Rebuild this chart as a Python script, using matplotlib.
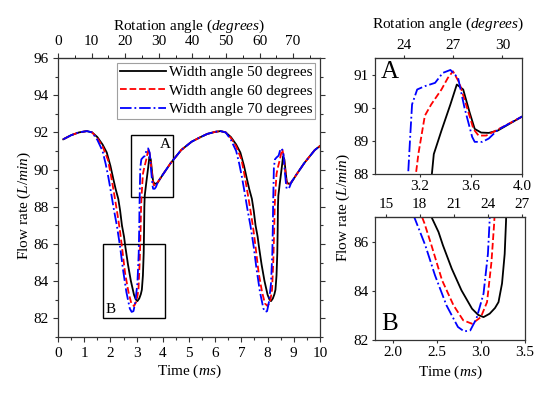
import numpy as np
import matplotlib; matplotlib.use('Agg')
import matplotlib.pyplot as plt
from matplotlib.patches import Rectangle
from matplotlib.ticker import MultipleLocator, FormatStrFormatter

plt.rcParams['font.family'] = ['Liberation Serif', 'DejaVu Serif']
plt.rcParams['mathtext.fontset'] = 'custom'
plt.rcParams['mathtext.rm'] = 'Liberation Serif'
plt.rcParams['mathtext.it'] = 'Liberation Serif:italic'

DEG_PER_MS = 7.8  # rotation angle per ms for the top axes

# --- data: time (ms) and flow rate (L/min) ---
t_50 = [0.2, 0.5, 0.8, 1.1, 1.3,
        1.5, 1.7, 1.86, 2.0, 2.11, 2.2, 2.30, 2.37, 2.44, 2.52, 2.57, 2.67, 2.78, 2.90, 2.97, 3.03,
        3.10, 3.16, 3.20, 3.24, 3.27, 3.285, 3.295, 3.31, 3.37, 3.44, 3.49, 3.54, 3.59, 3.63, 3.68, 3.74, 3.81,
        3.99, 4.3, 4.7, 5.1, 5.4, 5.7, 6.0, 6.2, 6.4,
        6.6, 6.8, 6.96, 7.1, 7.21, 7.3, 7.4, 7.47, 7.54, 7.62, 7.67, 7.77, 7.88, 8.0, 8.07, 8.13,
        8.2, 8.26, 8.3, 8.34, 8.37, 8.385, 8.395, 8.41, 8.47, 8.54, 8.59, 8.64, 8.69, 8.73, 8.78, 8.84, 8.91,
        9.09, 9.4, 9.8, 10.0]
q_50 = [91.63, 91.85, 92.0, 92.07, 92.0,
        91.75, 91.35, 90.92, 90.2, 89.5, 88.95, 88.43, 87.8, 87.0, 86.39, 85.85, 84.9, 84.02, 83.27, 83.02, 82.93,
        83.07, 83.3, 83.54, 84.3, 85.5, 86.8, 88.0, 88.6, 89.31, 90.1, 90.7, 90.55, 89.86, 89.36, 89.25, 89.24, 89.31,
        89.71, 90.35, 91.05, 91.5, 91.72, 91.92, 92.03, 92.07, 92.0,
        91.75, 91.35, 90.92, 90.2, 89.5, 88.95, 88.43, 87.8, 87.0, 86.39, 85.85, 84.9, 84.02, 83.27, 83.02, 82.93,
        83.07, 83.3, 83.54, 84.3, 85.5, 86.8, 88.0, 88.6, 89.31, 90.1, 90.7, 90.55, 89.86, 89.36, 89.25, 89.24, 89.31,
        89.71, 90.35, 91.05, 91.27]

t_60 = [0.2, 0.5, 0.8, 1.1, 1.3,
        1.5, 1.7, 1.9, 2.0, 2.1, 2.2, 2.28, 2.36, 2.44, 2.56, 2.69, 2.80, 2.90, 3.0,
        3.07, 3.12, 3.15, 3.17, 3.19, 3.24, 3.29, 3.37, 3.42, 3.46, 3.51, 3.57, 3.62, 3.66, 3.72, 3.79,
        3.99, 4.3, 4.7, 5.1, 5.4, 5.7, 6.0, 6.2, 6.4,
        6.6, 6.8, 7.0, 7.1, 7.2, 7.3, 7.38, 7.46, 7.54, 7.66, 7.79, 7.9, 8.0, 8.1,
        8.17, 8.22, 8.25, 8.27, 8.29, 8.34, 8.39, 8.47, 8.52, 8.56, 8.61, 8.67, 8.72, 8.76, 8.82, 8.89,
        9.09, 9.4, 9.8, 10.0]
q_60 = [91.63, 91.85, 92.0, 92.07, 92.0,
        91.7, 91.25, 90.55, 89.85, 89.05, 88.2, 87.5, 86.75, 85.85, 84.43, 83.41, 82.8, 82.66, 82.93,
        83.54, 85.17, 86.7, 88.0, 88.62, 89.76, 90.1, 90.55, 90.9, 91.1, 90.75, 90.0, 89.36, 89.16, 89.16, 89.3,
        89.71, 90.35, 91.05, 91.5, 91.72, 91.92, 92.03, 92.07, 92.0,
        91.7, 91.25, 90.55, 89.85, 89.05, 88.2, 87.5, 86.75, 85.85, 84.43, 83.41, 82.8, 82.66, 82.93,
        83.54, 85.17, 86.7, 88.0, 88.62, 89.76, 90.1, 90.55, 90.9, 91.1, 90.75, 90.0, 89.36, 89.16, 89.16, 89.3,
        89.71, 90.35, 91.05, 91.27]

t_70 = [0.2, 0.5, 0.8, 1.1, 1.3,
        1.5, 1.7, 1.82, 1.92, 2.02, 2.12, 2.25, 2.37, 2.48, 2.61, 2.74, 2.81, 2.88, 2.95, 3.03,
        3.08, 3.10, 3.11, 3.125, 3.14, 3.18, 3.24, 3.32, 3.38, 3.44, 3.50, 3.55, 3.61, 3.63, 3.69, 3.74, 3.81,
        3.99, 4.3, 4.7, 5.1, 5.4, 5.7, 6.0, 6.2, 6.4,
        6.6, 6.8, 6.92, 7.02, 7.12, 7.22, 7.35, 7.47, 7.58, 7.71, 7.84, 7.91, 7.98, 8.05, 8.13,
        8.18, 8.2, 8.21, 8.225, 8.24, 8.28, 8.34, 8.42, 8.48, 8.54, 8.6, 8.65, 8.71, 8.73, 8.79, 8.84, 8.91,
        9.09, 9.4, 9.8, 10.0]
q_70 = [91.63, 91.85, 92.0, 92.07, 92.0,
        91.6, 91.0, 90.3, 89.6, 88.8, 87.95, 86.95, 85.85, 84.63, 83.41, 82.53, 82.35, 82.39, 82.87, 83.88,
        85.5, 86.9, 88.05, 89.1, 90.1, 90.55, 90.65, 90.75, 91.05, 91.14, 90.9, 90.0, 89.12, 88.97, 88.97, 89.07, 89.33,
        89.71, 90.35, 91.05, 91.5, 91.72, 91.92, 92.03, 92.07, 92.0,
        91.6, 91.0, 90.3, 89.6, 88.8, 87.95, 86.95, 85.85, 84.63, 83.41, 82.53, 82.35, 82.39, 82.87, 83.88,
        85.5, 86.9, 88.05, 89.1, 90.1, 90.55, 90.65, 90.75, 91.05, 91.14, 90.9, 90.0, 89.12, 88.97, 88.97, 89.07, 89.33,
        89.71, 90.35, 91.05, 91.27]

series = [
    (t_50, q_50, 'Width angle 50 degrees', 'black', '-'),
    (t_60, q_60, 'Width angle 60 degrees', '#ff0000', '--'),
    (t_70, q_70, 'Width angle 70 degrees', '#0000ff', '-.'),
]


def draw_lines(ax, lw=1.3):
    for t, q, lab, c, ls in series:
        ax.plot(t, q, color=c, ls=ls, lw=lw, label=lab)


def style(ax, length=3.5, pad=3.5):
    for sp in ax.spines.values():
        sp.set_linewidth(0.9); sp.set_color('#333333')
    ax.tick_params(which='both', direction='out', labelsize=11, width=0.8, color='#333333', pad=pad)
    ax.tick_params(which='major', length=length)
    ax.tick_params(which='minor', length=2)


def top_axis(ax, length=3.5, pad=3.5):
    sec = ax.secondary_xaxis('top', functions=(lambda t: t * DEG_PER_MS, lambda d: d / DEG_PER_MS))
    sec.tick_params(direction='out', labelsize=11, width=0.8, length=length, pad=pad, color='#333333')
    return sec


fig = plt.figure(figsize=(5.5, 3.97), dpi=100)

# main panel
ax = fig.add_axes([0.1055, 0.1511, 0.4763, 0.7028])
draw_lines(ax)
ax.set_xlim(0, 10); ax.set_ylim(81, 96)
ax.xaxis.set_major_locator(MultipleLocator(1)); ax.xaxis.set_minor_locator(MultipleLocator(0.5))
ax.yaxis.set_major_locator(MultipleLocator(2)); ax.yaxis.set_minor_locator(MultipleLocator(1))
style(ax)
ax.tick_params(axis='y', which='both', right=True, labelright=False)
ax.set_xlabel('Time ($ms$)', fontsize=11, labelpad=2)
ax.set_ylabel('Flow rate ($L/min$)', fontsize=11)
ax.yaxis.set_label_coords(-0.095, 0.47)
sec = top_axis(ax)
sec.set_xticks(np.arange(0, 71, 10))
sec.xaxis.set_minor_locator(MultipleLocator(5))
sec.tick_params(which='minor', direction='out', length=2)
sec.set_xlabel('Rotation angle ($degrees$)', fontsize=11, labelpad=4)
ax.add_patch(Rectangle((2.8, 88.55), 1.6, 3.3, fill=False, ec='black', lw=1))
ax.add_patch(Rectangle((1.7, 82.0), 2.4, 4.0, fill=False, ec='black', lw=1))
ax.text(4.3, 91.7, 'A', fontsize=11, ha='right', va='top')
ax.text(1.8, 82.15, 'B', fontsize=11, ha='left', va='bottom')
leg = ax.legend(loc='upper right', fontsize=11, frameon=True, fancybox=False,
                edgecolor='#888888', borderaxespad=0.3, handlelength=3.0,
                handletextpad=0.2, labelspacing=0.3, borderpad=0.2)
leg.get_frame().set_linewidth(0.8)

# inset A
axa = fig.add_axes([0.6818, 0.5617, 0.2673, 0.2922])
draw_lines(axa)
axa.set_xlim(2.85, 4.0); axa.set_ylim(88, 91.5)
axa.set_xticks([3.2, 3.6, 4.0]); axa.set_yticks([88, 89, 90, 91])
style(axa, length=2.5, pad=2)
seca = top_axis(axa, length=2.5, pad=2)
seca.set_xticks([24, 27, 30])
seca.set_xlabel('Rotation angle ($degrees$)', fontsize=11, labelpad=8)
axa.text(0.04, 0.97, 'A', transform=axa.transAxes, fontsize=18, ha='left', va='top')

# inset B
axb = fig.add_axes([0.6818, 0.1436, 0.2727, 0.3098])
draw_lines(axb)
axb.set_xlim(1.8, 3.5); axb.set_ylim(82, 87)
axb.set_xticks([2.0, 2.5, 3.0, 3.5]); axb.set_yticks([82, 84, 86])
axb.xaxis.set_major_formatter(FormatStrFormatter('%.1f'))
style(axb, length=2.5, pad=2)
secb = top_axis(axb, length=2.5, pad=2)
secb.set_xticks([15, 18, 21, 24, 27])
axb.set_xlabel('Time ($ms$)', fontsize=11, labelpad=3)
axb.text(0.04, 0.04, 'B', transform=axb.transAxes, fontsize=18, ha='left', va='bottom')

fig.text(343 / 550, 1 - 207 / 397, 'Flow rate ($L/min$)', rotation=90, fontsize=11,
         ha='center', va='center')

fig.savefig('out.png', dpi=100)
plt.close(fig)
